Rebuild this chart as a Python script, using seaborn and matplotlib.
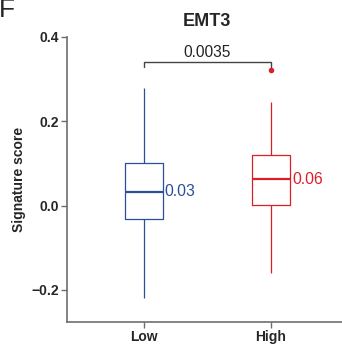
import numpy as np
import pandas as pd
import matplotlib
matplotlib.use("Agg")
import matplotlib.pyplot as plt
import seaborn as sns

# ---- data ----
groups = ["Low", "High"]
low_scores = [-0.219, -0.031, 0.033, 0.102, 0.279]
high_scores = [-0.160, 0.002, 0.002, 0.062, 0.062, 0.119, 0.119, 0.245, 0.321]
p_value_text = "0.0035"
title_text = "EMT3"
panel_letter = "F"
y_ticks = [-0.2, 0.0, 0.2, 0.4]
y_tick_labels = ["\u22120.2", "0.0", "0.2", "0.4"]

colors = {"Low": "#2A4F9C", "High": "#DC1F26"}

df = pd.DataFrame({
    "group": ["Low"] * len(low_scores) + ["High"] * len(high_scores),
    "score": low_scores + high_scores,
})

sns.set_style("white")
plt.rcParams["font.family"] = ["Liberation Sans", "DejaVu Sans"]

fig = plt.figure(figsize=(3.42, 3.47), dpi=100)
ax = fig.add_axes([67 / 342, 1 - 322 / 347, 1 - 67 / 342, (322 - 37) / 347])

sns.boxplot(
    data=df, x="group", y="score", hue="group", order=groups, hue_order=groups,
    palette=colors, fill=False, width=0.3, linewidth=0.9, showcaps=False,
    whis=1.5, legend=False, ax=ax,
    medianprops=dict(linewidth=1.6),
    flierprops=dict(marker="o", markersize=3, markerfacecolor=colors["High"],
                    markeredgecolor=colors["High"]),
)

ax.set_xlim(-0.602, 1.558)
ax.set_ylim(-0.276, 0.4)
ax.set_yticks(y_ticks)
ax.set_yticklabels(y_tick_labels)

for s in ["top", "right"]:
    ax.spines[s].set_visible(False)
for s in ["left", "bottom"]:
    ax.spines[s].set_color("#6E6E6E")
    ax.spines[s].set_linewidth(1.2)

ax.tick_params(axis="both", which="both", length=4, width=1.0, color="#6E6E6E",
               labelsize=10, pad=2, left=True, bottom=True, direction="out")
for lbl in ax.get_xticklabels() + ax.get_yticklabels():
    lbl.set_fontweight("bold")
ax.set_xlabel("")
ax.set_ylabel("Signature score", fontsize=10, fontweight="bold", labelpad=4)

# median labels
for i, (g, vals) in enumerate(zip(groups, [low_scores, high_scores])):
    med = np.median(vals)
    ax.text(i + 0.165, med, f"{med:.2f}", color=colors[g], fontsize=11.3,
            va="center", ha="left")

# significance bracket
y_br, y_tip = 0.3396, 0.330
ax.plot([0, 0, 1, 1], [y_tip, y_br, y_br, y_tip], color="#444444", lw=1.0,
        clip_on=False)
ax.text(0.5, 0.3524, p_value_text, ha="center", va="baseline", fontsize=11.2,
        color="#222222")

fig.text(207 / 342, 1 - 26 / 347, title_text, ha="center", va="baseline",
         fontsize=13, fontweight="bold")
fig.text(-0.004, 1 - 17 / 347, panel_letter, ha="left", va="baseline",
         fontsize=19)

fig.savefig("out.png", dpi=100)
